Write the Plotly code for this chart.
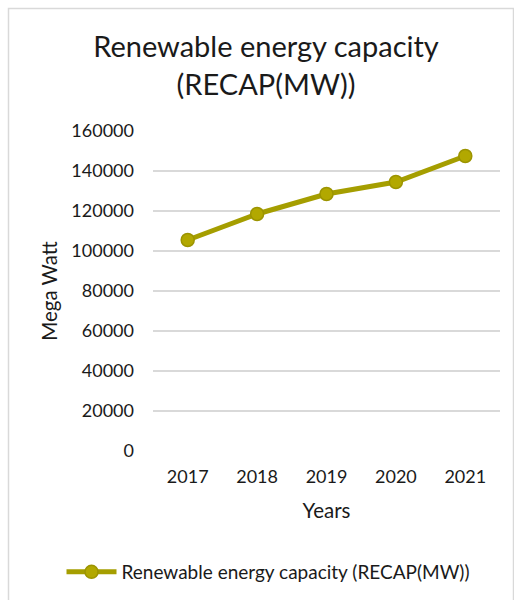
import plotly.graph_objects as go

# Installed renewable capacity by year, in megawatts
years = ["2017", "2018", "2019", "2020", "2021"]
capacity_mw = [105500, 118500, 128500, 134500, 147500]
series_name = "Renewable energy capacity (RECAP(MW))"

W, H = 514, 600
L, R, T, B = 153, 14, 131, 149
pw, ph = W - L - R, H - T - B

def px_x(x):
    return (x - L) / pw

def px_y(y):
    return (H - B - y) / ph

font = "Lato, 'Open Sans', sans-serif"
text_col = "#1A1A1A"
line_col = "#A59E00"

fig = go.Figure()
fig.add_trace(go.Scatter(
    x=years, y=capacity_mw, name=series_name,
    mode="lines+markers",
    line=dict(color=line_col, width=5),
    marker=dict(size=13, color="#B2A800", line=dict(color="#9C9400", width=1.5)),
    showlegend=True,
))

fig.update_layout(
    width=W, height=H,
    margin=dict(l=L, r=R, t=T, b=B, autoexpand=False),
    paper_bgcolor="white", plot_bgcolor="white",
    font=dict(family=font, color=text_col),
    title=dict(
        text="Renewable energy capacity<br>(RECAP(MW))",
        x=266 / W, xanchor="center", xref="container",
        y=1 - 57 / H, yanchor="middle", yref="container",
        font=dict(size=29, family=font, color=text_col),
    ),
    xaxis=dict(
        type="category", range=[-0.5, 4.5],
        showgrid=False, showline=False, zeroline=False,
        ticks="", ticklabelstandoff=13,
        tickfont=dict(size=18),
        title=dict(text="Years", font=dict(size=20.5), standoff=17),
    ),
    yaxis=dict(
        range=[0, 160000], dtick=20000, tickformat="d",
        showgrid=True, gridcolor="#D9D9D9", gridwidth=1.5,
        zeroline=False, showline=False, ticks="",
        ticklabelstandoff=18,
        tickfont=dict(size=18),
        title=dict(text="Mega Watt", font=dict(size=20.5), standoff=8),
    ),
    legend=dict(
        orientation="h", x=px_x(268), xanchor="center",
        y=px_y(572), yanchor="middle",
        itemwidth=50,
        font=dict(size=19, family=font, color=text_col),
        bgcolor="rgba(0,0,0,0)",
    ),
    shapes=[dict(
        type="rect", xref="paper", yref="paper",
        x0=px_x(8.5), x1=px_x(513.5), y0=px_y(620), y1=px_y(8.5),
        line=dict(color="#D9D9D9", width=1.5), fillcolor="rgba(0,0,0,0)",
        layer="below",
    )],
)

fig.write_html("out.html")
